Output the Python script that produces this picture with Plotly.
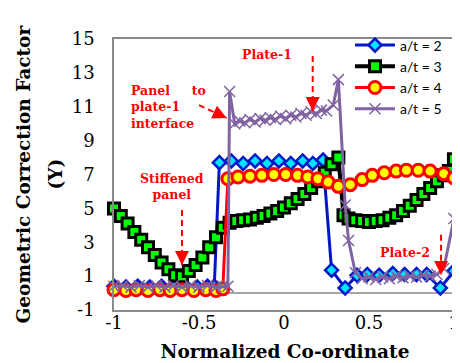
import math
import plotly.graph_objects as go

# ---------------- data ----------------
series_names = ["a/t = 2", "a/t = 3", "a/t = 4", "a/t = 5"]

x_at2 = [-1.0, -0.93, -0.86, -0.79, -0.72, -0.65, -0.58, -0.51, -0.45, -0.41,
         -0.38, -0.31, -0.24, -0.17, -0.10, -0.03, 0.04, 0.11, 0.17, 0.23,
         0.28, 0.36, 0.43, 0.49, 0.56, 0.64, 0.71, 0.78, 0.84, 0.92, 1.0]
y_at2 = [0.4, 0.35, 0.4, 0.35, 0.4, 0.35, 0.4, 0.35, 0.4, 0.4,
         7.7, 7.8, 7.65, 7.8, 7.65, 7.8, 7.65, 7.8, 7.65, 7.85,
         1.35, 0.3, 1.05, 1.1, 1.05, 1.15, 1.1, 1.1, 1.1, 0.3, 1.3]

x_at3 = [-1.00, -0.96, -0.92, -0.88, -0.84, -0.80, -0.76, -0.72, -0.68, -0.64,
         -0.60, -0.56, -0.52, -0.48, -0.44, -0.40, -0.36, -0.32, -0.28, -0.24,
         -0.20, -0.16, -0.12, -0.08, -0.04, 0.00, 0.04, 0.08, 0.12, 0.16,
         0.20, 0.24, 0.28, 0.32, 0.35, 0.38, 0.42, 0.46, 0.50, 0.54,
         0.58, 0.62, 0.66, 0.70, 0.74, 0.78, 0.82, 0.86, 0.90, 0.94, 0.97, 1.00]
y_at3 = [5.0, 4.55, 4.1, 3.6, 3.15, 2.7, 2.25, 1.8, 1.4, 1.05,
         1.0, 1.3, 1.65, 2.1, 2.7, 3.3, 3.85, 4.15, 4.25, 4.3,
         4.35, 4.45, 4.55, 4.7, 4.85, 5.05, 5.3, 5.55, 5.85, 6.2,
         6.6, 7.1, 7.6, 8.0, 4.6, 4.4, 4.3, 4.25, 4.2, 4.25,
         4.3, 4.45, 4.6, 4.85, 5.15, 5.5, 5.85, 6.2, 6.6, 6.95, 7.2, 7.9]

x_at4 = [-1.0, -0.93, -0.87, -0.8, -0.73, -0.67, -0.6, -0.53, -0.46, -0.4,
         -0.36, -0.33, -0.27, -0.2, -0.13, -0.06, 0.01, 0.08, 0.14, 0.2,
         0.26, 0.32, 0.39, 0.46, 0.52, 0.59, 0.66, 0.72, 0.79, 0.86, 0.94, 1.0]
y_at4 = [0.2, 0.15, 0.2, 0.15, 0.2, 0.15, 0.2, 0.15, 0.2, 0.15,
         0.25, 6.75, 6.85, 6.9, 6.95, 7.0, 7.0, 6.95, 6.85, 6.75,
         6.55, 6.3, 6.4, 6.7, 6.95, 7.1, 7.2, 7.25, 7.25, 7.2, 7.05, 6.8]

x_at5 = [-1.0, -0.95, -0.9, -0.85, -0.8, -0.75, -0.7, -0.65, -0.6, -0.55,
         -0.5, -0.45, -0.4, -0.36, -0.33,
         -0.32, -0.29, -0.26, -0.23, -0.2, -0.17, -0.14, -0.11, -0.08, -0.05,
         -0.02, 0.01, 0.04, 0.07, 0.1, 0.13, 0.16, 0.19, 0.22, 0.25, 0.29,
         0.32, 0.36, 0.38, 0.42, 0.46, 0.5, 0.54, 0.58, 0.62, 0.66, 0.7,
         0.74, 0.78, 0.82, 0.86, 0.9, 0.94, 1.0]
y_at5 = [0.4, 0.45, 0.35, 0.45, 0.35, 0.45, 0.35, 0.45, 0.35, 0.45,
         0.35, 0.45, 0.35, 0.4, 0.4,
         11.9, 10.0, 10.15, 10.05, 10.25, 10.1, 10.3, 10.2, 10.35, 10.25,
         10.45, 10.3, 10.5, 10.4, 10.6, 10.5, 10.7, 10.6, 10.8, 10.75, 11.1,
         12.6, 5.2, 3.1, 1.2, 0.85, 0.95, 0.8, 0.95, 0.85, 1.0, 0.9,
         1.0, 0.95, 1.05, 1.0, 1.1, 1.45, 4.4]

x_tick_vals = [-1, -0.5, 0, 0.5, 1]
x_tick_text = ["-1", "-0.5", "0", "0.5", "1"]
y_tick_vals = [-1, 1, 3, 5, 7, 9, 11, 13, 15]
y_tick_text = ["-1", "1", "3", "5", "7", "9", "11", "13", "15"]

x_title = "Normalized Co-ordinate"
y_title_lines = ["Geometric Correction Factor", "(Y)"]

# callout labels: (text, x, y)
callouts = [
    ("Plate-1", -0.1, 14.1),
    ("Panel\u00a0\u00a0\u00a0\u00a0\u00a0to<br>plate-1<br>interface", -0.91, 11.0),
    ("Stiffened<br>panel", -0.66, 6.3),
    ("Plate-2", 0.71, 2.4),
]
# dashed arrows: (x_start, y_start, x_tip, y_tip)
arrows = [
    (0.169, 14.0, 0.169, 10.75),
    (-0.5, 11.1, -0.337, 10.33),
    (-0.6, 4.9, -0.6, 1.66),
    (0.924, 3.45, 0.924, 1.07),
]

# ---------------- figure ----------------
fig = go.Figure()

fig.add_trace(go.Scatter(
    x=x_at2, y=y_at2, name=series_names[0], mode="lines+markers",
    line=dict(color="#0018C8", width=3),
    marker=dict(symbol="diamond", size=10, color="#00E5FF",
                line=dict(color="#0018C8", width=2.5)),
    cliponaxis=False))
fig.add_trace(go.Scatter(
    x=x_at3, y=y_at3, name=series_names[1], mode="lines+markers",
    line=dict(color="#000000", width=4),
    marker=dict(symbol="square", size=11, color="#00FF00",
                line=dict(color="#000000", width=3)),
    cliponaxis=False))
fig.add_trace(go.Scatter(
    x=x_at4, y=y_at4, name=series_names[2], mode="lines+markers",
    line=dict(color="#FF0000", width=3),
    marker=dict(symbol="circle", size=12, color="#FFFF00",
                line=dict(color="#FF0000", width=3)),
    cliponaxis=False))
fig.add_trace(go.Scatter(
    x=x_at5, y=y_at5, name=series_names[3], mode="lines+markers",
    line=dict(color="#8064A2", width=3),
    marker=dict(symbol="x-thin-open", size=11,
                line=dict(color="#9B8BC4", width=1.5)),
    cliponaxis=False))

red = "#FF0000"
for txt, tx, ty in callouts:
    left = "interface" in txt
    fig.add_annotation(x=tx, y=ty, xref="x", yref="y", text=txt,
                       showarrow=False, align="left" if left else "center",
                       xanchor="left" if left else "center",
                       font=dict(family="DejaVu Serif", size=12.5, color=red,
                                 weight="bold"))

for x0, y0, x1, y1 in arrows:
    fig.add_shape(type="line", xref="x", yref="y", x0=x0, y0=y0, x1=x1, y1=y1,
                  line=dict(color=red, width=2, dash="6px,4px"))
    dxp = (x1 - x0) * 172.0
    dyp = -(y1 - y0) * 16.94
    n = math.hypot(dxp, dyp)
    fig.add_annotation(x=x1, y=y1, xref="x", yref="y",
                       ax=-dxp / n * 10, ay=-dyp / n * 10,
                       text="", showarrow=True, arrowhead=2, arrowsize=1.4,
                       arrowwidth=2, arrowcolor=red, standoff=0)

# y-axis title (two lines)
for line_txt, shift in zip(y_title_lines, [-91, -59]):
    fig.add_annotation(x=0, y=0.5, xref="paper", yref="paper", text=line_txt,
                       showarrow=False, textangle=-90, xanchor="center",
                       yanchor="middle", xshift=shift,
                       font=dict(family="DejaVu Serif", size=18.5,
                                 color="#000000", weight="bold"))

axis_common = dict(showgrid=False, showline=True, linecolor="#8A8A8A", linewidth=1.5,
                   mirror=True, ticks="",
                   tickfont=dict(family="DejaVu Serif", size=18, color="#000000"))

fig.update_xaxes(range=[-1, 1.012], tickmode="array", tickvals=x_tick_vals,
                 ticktext=x_tick_text, zeroline=False, ticklabelstandoff=-4,
                 title=dict(text=x_title, standoff=13,
                            font=dict(family="DejaVu Serif", size=18.5,
                                      color="#000000", weight="bold")),
                 **axis_common)
fig.update_yaxes(range=[-1, 15], tickmode="array", tickvals=y_tick_vals,
                 ticktext=y_tick_text, zeroline=True, zerolinecolor="#A6A6A6",
                 zerolinewidth=1.5, ticklabelstandoff=14, **axis_common)

fig.update_layout(
    width=460, height=363,
    margin=dict(l=106, r=8, t=31, b=61),
    paper_bgcolor="white", plot_bgcolor="white",
    showlegend=True,
    legend=dict(x=0.69, y=1.035, xanchor="left", yanchor="top",
                bgcolor="rgba(0,0,0,0)", borderwidth=0,
                font=dict(family="Lato", size=14, color="#000000"),
                itemwidth=40, tracegroupgap=0),
)

fig.write_html("out.html")
